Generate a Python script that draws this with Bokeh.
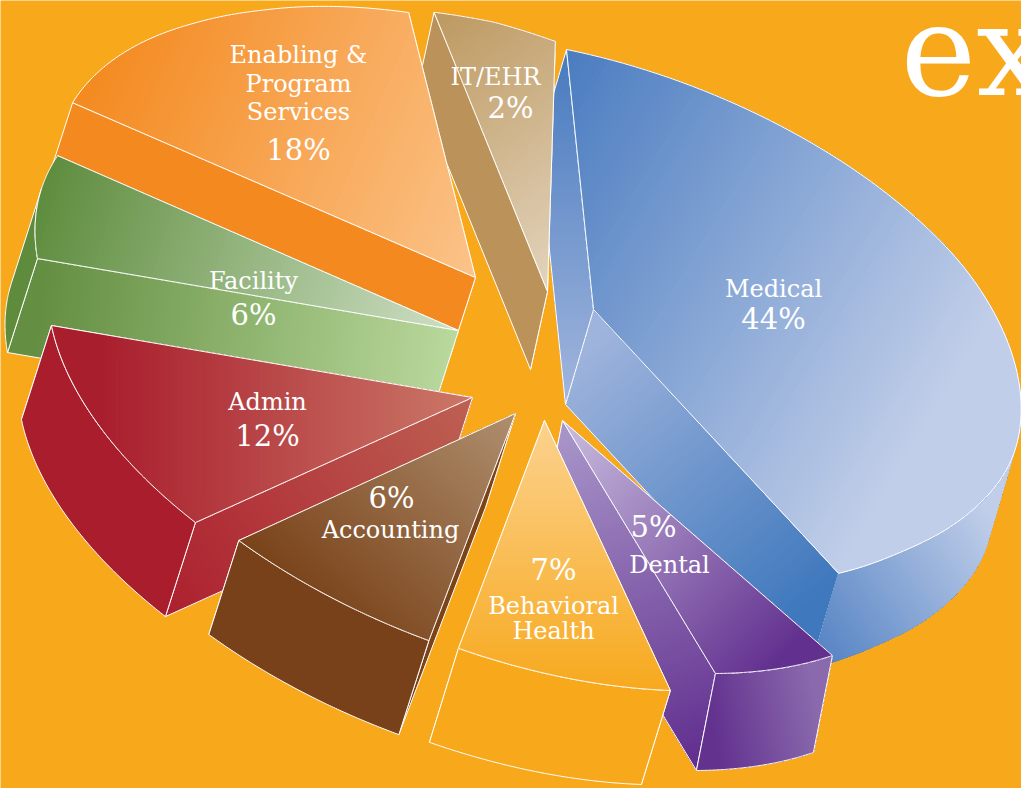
import math
from bokeh.plotting import figure
from bokeh.models import Range1d
from bokeh.core.properties import value
from bokeh.embed import file_html
from bokeh.resources import INLINE

# ---- data ----
categories = ["Medical", "Dental", "Behavioral Health", "Accounting", "Admin", "Facility", "Enabling & Program Services", "IT/EHR"]
shares = [44, 5, 7, 6, 12, 6, 18, 2]
title_text = "ex"
label_lines = [["Medical"], ["Dental"], ["Behavioral", "Health"], ["Accounting"], ["Admin"], ["Facility"], ["Enabling &", "Program", "Services"], ["IT/EHR"]]

# ---- layout and style ----
BG = "#F7A81B"
FONT = "DejaVu Serif"
U = (-27.0, -260.0)   # projected disc axes
V = (425.0, 95.0)

def G(x0, y0, c0, x1, y1, c1):
    return (x0, y0, c0, x1, y1, c1)

def flat(c):
    return (0, 0, c, 1, 0, c)

STYLE = {
 "Medical": dict(apex=(593, 309), d=(-28, 95), dt=(0, -10.9), side_line=False,
    r=[(0, 1.0), (.29, 1.025), (.41, 1.03), (.5, 1.02), (.62, 1.005), (.7, .995), (.8, .975), (.915, .962), (1, .976)],
    top=G(565, 50, "#4A7CC0", 996, 309, "#C1CEE9"),
    start=G(560, 60, "#4A7CBF", 560, 400, "#A1B5DD"),
    end=G(580, 350, "#9FB4DC", 800, 610, "#3F78BD"),
    side=G(815, 660, "#5282C3", 1000, 530, "#C1CEE9")),
 "Dental": dict(apex=(562, 420), d=(-19, 97), dt=(-19.1, -15.9), r=[(0, .907), (1, .914)], start_first=True,
    top=G(570, 430, "#C5B8DC", 790, 650, "#62308F"),
    start=flat("#62308F"),
    end=G(560, 440, "#A793C8", 690, 760, "#62308F"),
    side=G(710, 720, "#63328F", 815, 700, "#8A6AAD")),
 "Behavioral Health": dict(apex=(544, 420), d=(-29, 94), dt=(-10.3, -6.4), r=[(0, .981), (1, 1.008)],
    top=G(544, 420, "#FCD28F", 544, 690, "#F7A91E"),
    start=flat(BG), end=flat(BG), side=flat(BG)),
 "Accounting": dict(apex=(515, 413), d=(-30, 94), dt=(-6.3, 0), r=[(0, 1.006), (1, 1.02)],
    top=G(330, 620, "#7A431A", 515, 413, "#AF8F6F"),
    start=flat("#7A4319"), end=flat("#7A4319"), side=flat("#78411A")),
 "Admin": dict(apex=(472, 397), d=(-30, 94), dt=(.3, -1.4), r=[(0, 1.015), (1, 1.0)],
    top=G(100, 400, "#A91E2D", 472, 400, "#CB7868"),
    start=G(170, 600, "#AD2230", 470, 400, "#BD6052"),
    end=flat("#A91E2D"), side=flat("#A91D2D")),
 "Facility": dict(apex=(458, 330), d=(-30, 94), dt=(-1.4, 2), r=[(0, 1.0), (1, .981)],
    top=G(40, 200, "#5F8D3E", 458, 330, "#CFE0C6"),
    start=G(40, 300, "#648F42", 450, 350, "#B9D89C"),
    end=flat("#5F8C3C"), side=flat("#5F8C3C")),
 "Enabling & Program Services": dict(apex=(475, 277), d=(-30, 93), dt=(1.8, 1.7),
    r=[(0, .985), (.264, .978), (.478, .972), (.658, .973), (.78, .979), (1, .989)],
    top=G(75, 105, "#F48A20", 475, 277, "#FBC389"),
    start=flat("#F48920"), end=flat("#F48920"), side=flat("#F48920")),
 "IT/EHR": dict(apex=(547, 291), d=(-17, 78), dt=(-4.3, 4.7),
    r=[(0, 1.02), (.5, 1.015), (1, .995)],
    top=G(440, 15, "#BE9A62", 600, 250, "#E2D3BC"),
    start=flat("#BB925A"), end=flat("#BB925A"), side=flat("#BB925A")),
}
PAINT_ORDER = ["Medical", "IT/EHR", "Enabling & Program Services", "Facility", "Admin", "Accounting", "Dental", "Behavioral Health"]

# label block: (centre x, [y of each name line], x and y of the percent)
LABELS = {
 "Medical": (773, [288], 773, 318),
 "Dental": (669, [564], 653, 526),
 "Behavioral Health": (553, [605, 630], 553, 569),
 "Accounting": (390, [529], 391, 497),
 "Admin": (267, [401], 267, 435),
 "Facility": (253, [280], 253, 314),
 "Enabling & Program Services": (298, [54, 83, 111], 298, 149),
 "IT/EHR": (495, [76], 510, 107),
}

# ---- geometry from the values ----
def hex2rgb(h):
    return tuple(int(h[i:i + 2], 16) for i in (1, 3, 5))

def clip(poly, px, py, dx, dy, f):
    n2 = dx * dx + dy * dy
    val = lambda q: ((q[0] - px) * dx + (q[1] - py) * dy) / n2 - f
    out = []
    for i, a in enumerate(poly):
        b = poly[(i + 1) % len(poly)]
        va, vb = val(a), val(b)
        if va >= 0:
            out.append(a)
        if (va >= 0) != (vb >= 0):
            s = va / (va - vb)
            out.append((a[0] + s * (b[0] - a[0]), a[1] + s * (b[1] - a[1])))
    return out

def draw_face(p, poly, grad, outline=True, bands=90):
    x0, y0, c0, x1, y1, c1 = grad
    xs, ys, cols = [], [], []
    a, b = hex2rgb(c0), hex2rgb(c1)
    dx, dy = x1 - x0, y1 - y0
    xs.append([q[0] for q in poly]); ys.append([q[1] for q in poly]); cols.append(c0)
    if c0 != c1:
        for i in range(1, bands + 1):
            f = i / bands
            part = clip(poly, x0, y0, dx, dy, f - 0.5 / bands)
            if len(part) >= 3:
                xs.append([q[0] for q in part]); ys.append([q[1] for q in part])
                cols.append("#%02X%02X%02X" % tuple(round(a[k] + (b[k] - a[k]) * f) for k in range(3)))
    p.patches(xs, ys, fill_color=cols, line_alpha=0)
    if outline:
        p.line([q[0] for q in poly] + [poly[0][0]], [q[1] for q in poly] + [poly[0][1]],
               line_color="white", line_width=1.0, line_join="round")

def radius_profile(knots, n):
    vals = []
    for i in range(n):
        f = i / (n - 1)
        for (f0, r0), (f1, r1) in zip(knots, knots[1:]):
            if f <= f1:
                vals.append(r0 + (r1 - r0) * (f - f0) / (f1 - f0))
                break
    for _ in range(12):  # soften the knots, ends stay fixed
        vals = [vals[0]] + [(vals[i - 1] + 2 * vals[i] + vals[i + 1]) / 4 for i in range(1, n - 1)] + [vals[-1]]
    return vals

p = figure(width=1021, height=788, output_backend="svg", toolbar_location=None,
           x_range=Range1d(0, 1021), y_range=Range1d(788, 0), min_border=0,
           background_fill_color=BG, border_fill_color=BG, outline_line_color=None)
p.axis.visible = False
p.grid.visible = False

cum = {}
total = 0.0
for name, s in zip(categories, shares):
    cum[name] = (total, total + s * 360.0 / sum(shares))
    total += s * 360.0 / sum(shares)

N = 97
for name in PAINT_ORDER:
    st = STYLE[name]
    a0, a1 = cum[name]
    t0, t1 = a0 + st["dt"][0], a1 + st["dt"][1]
    ax, ay = st["apex"]
    dx, dy = st["d"]
    rs = radius_profile(st["r"], N)
    arc = []
    for i in range(N):
        t = math.radians(t0 + (t1 - t0) * i / (N - 1))
        arc.append((ax + rs[i] * (U[0] * math.cos(t) + V[0] * math.sin(t)),
                    ay + rs[i] * (U[1] * math.cos(t) + V[1] * math.sin(t))))
    ext = lambda q: (q[0] + dx, q[1] + dy)
    top = [(ax, ay)] + arc
    start_face = [(ax, ay), arc[0], ext(arc[0]), (ax + dx, ay + dy)]
    end_face = [(ax, ay), arc[-1], ext(arc[-1]), (ax + dx, ay + dy)]
    if st.get("start_first"):
        draw_face(p, start_face, st["start"])
        draw_face(p, end_face, st["end"])
    else:
        draw_face(p, end_face, st["end"])
        draw_face(p, start_face, st["start"])
    # outer wall: only the part of the rim that faces the viewer
    seen = [i for i in range(N - 1)
            if (arc[i + 1][1] - arc[i][1]) * dx - (arc[i + 1][0] - arc[i][0]) * dy > 0]
    if seen:
        rim = arc[seen[0]:seen[-1] + 2]
        draw_face(p, rim + [ext(q) for q in reversed(rim)], st["side"], outline=st.get("side_line", True))
    draw_face(p, top, st["top"])

def put(x, y, txt, size):
    p.text(x=[x], y=[y], text=[txt], text_font=value(FONT), text_font_size=size,
           text_color="white", text_align="center", text_baseline="middle")

for name, share, lines in zip(categories, shares, label_lines):
    lx, lys, px, py = LABELS[name]
    for ln, ly in zip(lines, lys):
        put(lx, ly, ln, "24px")
    put(px, py, f"{share}%", "29px")

p.text(x=[900], y=[50], text=[title_text], text_font=value(FONT), text_font_size="128px",
       text_color="white", text_align="left", text_baseline="alphabetic")

TEMPLATE = """<!DOCTYPE html>
<html lang="en"><head><meta charset="utf-8"><title>Chart</title>
{{ bokeh_css }}{{ bokeh_js }}
<style>html,body{margin:0;padding:0;background:#F7A81B;overflow:hidden}</style>
</head><body>{{ plot_div }}{{ plot_script }}</body></html>"""
open("out.html", "w").write(file_html(p, INLINE, template=TEMPLATE))
